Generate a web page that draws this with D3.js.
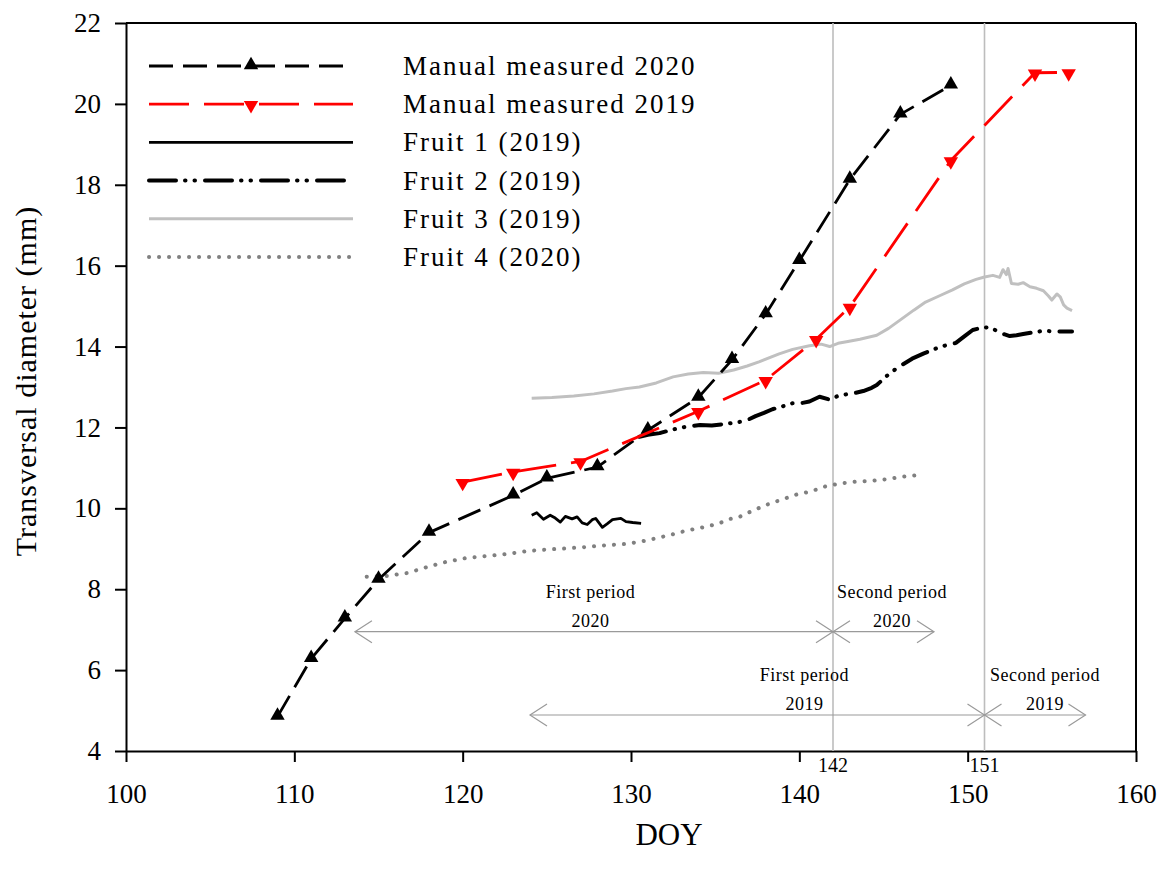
<!DOCTYPE html>
<html>
<head>
<meta charset="utf-8">
<script src="https://cdn.jsdelivr.net/npm/d3@7"></script>
<style>
body { margin: 0; background: #fff; }
text { font-family: "Liberation Serif", "Times New Roman", serif; fill: #000; }
</style>
</head>
<body>
<div id="chart"></div>
<script>
// chart size
let svgWidth = 1162;
let svgHeight = 878;
let margin = { top: 23, right: 26, bottom: 127, left: 126 };
let chartWidth = svgWidth - margin.left - margin.right;
let chartHeight = svgHeight - margin.top - margin.bottom;

// ---- data ----
let xTicks = [100, 110, 120, 130, 140, 150, 160];
let yTicks = [4, 6, 8, 10, 12, 14, 16, 18, 20, 22];

let manualDoy2020 = [109, 111, 113, 115, 118, 123, 125, 128, 131, 134, 136, 138, 140, 143, 146, 149];
let manual2020 = [4.85, 6.28, 7.28, 8.24, 9.4, 10.32, 10.74, 11.02, 11.93, 12.74, 13.67, 14.8, 16.12, 18.13, 19.74, 20.46];

let manualDoy2019 = [120, 123, 127, 134, 138, 141, 143, 149, 154, 156];
let manual2019 = [10.65, 10.9, 11.16, 12.4, 13.17, 14.18, 14.98, 18.6, 20.77, 20.78];

let fruit1Doy = [124.1, 124.4, 124.8, 125.2, 125.5, 125.8, 126.1, 126.5, 126.8, 127.1, 127.4, 127.7, 127.9, 128.3, 128.6, 128.9, 129.4, 129.7, 130.1, 130.6];
let fruit1 = [9.83, 9.89, 9.73, 9.83, 9.76, 9.66, 9.8, 9.74, 9.79, 9.64, 9.6, 9.72, 9.75, 9.53, 9.62, 9.72, 9.75, 9.67, 9.65, 9.63];

let fruit2Doy = [130.5, 131.0, 131.7, 132.5, 133.3, 134.1, 134.8, 135.5, 136.5, 137.0, 137.4, 137.9, 138.4, 139.0, 139.6, 140.1, 140.6, 141.2, 141.8, 142.3,
  142.8, 143.3, 143.8, 144.3, 144.6, 145.0, 145.4, 146.0, 146.7, 147.4, 148.1, 148.7, 149.3, 149.8, 150.3, 150.8, 151.3, 151.6, 151.9, 152.2,
  152.5, 152.9, 153.3, 153.9, 154.5, 155.3, 156.2];
let fruit2 = [11.77, 11.82, 11.86, 11.95, 12.02, 12.06, 12.05, 12.08, 12.14, 12.2, 12.28, 12.36, 12.45, 12.52, 12.6, 12.6, 12.64, 12.76, 12.69, 12.78,
  12.82, 12.85, 12.9, 12.98, 13.05, 13.2, 13.35, 13.52, 13.7, 13.83, 13.95, 14.03, 14.09, 14.25, 14.41, 14.46, 14.48, 14.42, 14.33, 14.3,
  14.26, 14.28, 14.31, 14.35, 14.39, 14.37, 14.37];

let fruit3Doy = [124.1, 125.3, 126.6, 127.8, 128.9, 129.7, 130.5, 131.5, 132.5, 133.4, 134.3, 135.2, 136.1, 136.9, 137.6, 138.8, 139.6, 140.6, 141.3, 141.8,
  142.3, 142.8, 143.6, 144.6, 145.3, 146.0, 146.8, 147.5, 148.3, 149.1, 149.8, 150.5, 151.0, 151.5, 151.9, 152.1, 152.3, 152.4, 152.6, 153.0,
  153.3, 153.7, 154.1, 154.5, 154.8, 155.0, 155.3, 155.5, 155.7, 155.9, 156.2];
let fruit3 = [12.72, 12.74, 12.78, 12.83, 12.9, 12.96, 13.0, 13.1, 13.25, 13.32, 13.36, 13.34, 13.42, 13.52, 13.62, 13.82, 13.93, 14.02, 14.06, 14.0,
  14.08, 14.12, 14.18, 14.28, 14.45, 14.66, 14.9, 15.1, 15.25, 15.4, 15.55, 15.66, 15.72, 15.76, 15.71, 15.9, 15.78, 15.93, 15.56, 15.54,
  15.58, 15.48, 15.44, 15.38, 15.25, 15.15, 15.3, 15.23, 15.03, 14.95, 14.89];

let fruit4Doy = [114.3, 115.5, 116.7, 117.9, 119.05, 120.2, 121.4, 122.6, 124.0, 125.3, 126.2, 127.2, 128.0, 129.0, 129.7, 130.6, 131.5, 132.4, 133.3, 134.5,
  135.2, 135.8, 136.4, 136.9, 138.0, 139.2, 139.9, 140.7, 141.6, 142.5, 143.4, 144.3, 145.2, 146.1, 147.1];
let fruit4 = [8.31, 8.33, 8.4, 8.55, 8.68, 8.77, 8.82, 8.87, 8.95, 8.99, 9.01, 9.04, 9.07, 9.1, 9.12, 9.18, 9.26, 9.35, 9.45, 9.55,
  9.62, 9.73, 9.78, 9.88, 10.08, 10.25, 10.35, 10.42, 10.55, 10.62, 10.66, 10.68, 10.72, 10.78, 10.82];

// period boundaries and arrow annotations
let boundaryDoy = [142, 151];
let periodNames = ["First period", "Second period", "First period", "Second period"];
let periodYears = ["2020", "2020", "2019", "2019"];
let periodStart = [113.6, 142, 124, 151];
let periodEnd = [142, 148, 151, 157];
let periodLevel = [6.95, 6.95, 4.89, 4.89];
let periodLabelDoy = [127.6, 145.5, 140.3, 154.6];

let legendNames = ["Manual measured 2020", "Manual measured 2019", "Fruit 1 (2019)", "Fruit 2 (2019)", "Fruit 3 (2019)", "Fruit 4 (2020)"];

// series styles
let styles = [
  { color: "#000", width: 2.8, dash: "24 10", cap: "butt", marker: "up" },
  { color: "#ff0000", width: 2.8, dash: "40 15", cap: "butt", marker: "down" },
  { color: "#000", width: 2.8, dash: null, cap: "butt" },
  { color: "#000", width: 4, dash: "27 9 0.5 9 0.5 10", cap: "round" },
  { color: "#c0c0c0", width: 3, dash: null, cap: "butt" },
  { color: "#808080", width: 4, dash: "0.1 9.9", cap: "round" }
];

function zipSeries(xs, ys) {
  return xs.map((d, i) => ({ x: d, y: ys[i] }));
}

let series = [
  zipSeries(manualDoy2020, manual2020),
  zipSeries(manualDoy2019, manual2019),
  zipSeries(fruit1Doy, fruit1),
  zipSeries(fruit2Doy, fruit2),
  zipSeries(fruit3Doy, fruit3),
  zipSeries(fruit4Doy, fruit4)
];

/********************************************/

let svg = d3.select("#chart")
  .append("svg")
  .attr("width", svgWidth)
  .attr("height", svgHeight);

let chartGroup = svg.append("g")
  .attr("transform", `translate(${margin.left}, ${margin.top})`);

let xScale = d3.scaleLinear().domain([100, 160]).range([0, chartWidth]);
let yScale = d3.scaleLinear().domain([4, 22]).range([chartHeight, 0]);

// axes
let xAxis = d3.axisBottom(xScale).tickValues(xTicks).tickSize(11).tickSizeOuter(0).tickPadding(22);
let yAxis = d3.axisLeft(yScale).tickValues(yTicks).tickSize(11).tickSizeOuter(0).tickPadding(14);

let gx = chartGroup.append("g")
  .attr("class", "x-axis")
  .attr("transform", `translate(0, ${chartHeight})`)
  .call(xAxis);
let gy = chartGroup.append("g")
  .attr("class", "y-axis")
  .call(yAxis);

[gx, gy].forEach(g => {
  g.selectAll("path, line").attr("stroke", "#000").attr("stroke-width", 2);
  g.selectAll("text")
    .style("font-family", "'Liberation Serif', serif")
    .style("font-size", "27px")
    .attr("fill", "#000");
});

// top and right frame
chartGroup.append("line")
  .attr("x1", 0).attr("x2", chartWidth).attr("y1", 0).attr("y2", 0)
  .attr("stroke", "#000").attr("stroke-width", 2);
chartGroup.append("line")
  .attr("x1", chartWidth).attr("x2", chartWidth).attr("y1", 0).attr("y2", chartHeight)
  .attr("stroke", "#000").attr("stroke-width", 2);

// axis titles
svg.append("text")
  .attr("transform", `translate(36, 381) rotate(-90)`)
  .attr("text-anchor", "middle")
  .style("font-size", "30px")
  .style("letter-spacing", "1px")
  .text("Transversal diameter (mm)");

svg.append("text")
  .attr("x", 669)
  .attr("y", 845)
  .attr("text-anchor", "middle")
  .style("font-size", "31px")
  .text("DOY");

// vertical boundary lines
chartGroup.selectAll(".boundary")
  .data(boundaryDoy)
  .enter()
  .append("line")
  .attr("class", "boundary")
  .attr("x1", d => xScale(d)).attr("x2", d => xScale(d))
  .attr("y1", 0).attr("y2", chartHeight)
  .attr("stroke", "#bdbdbd").attr("stroke-width", 1.6);

chartGroup.selectAll(".boundaryLabel")
  .data(boundaryDoy)
  .enter()
  .append("text")
  .attr("class", "boundaryLabel")
  .attr("x", d => xScale(d))
  .attr("y", chartHeight + 21)
  .attr("text-anchor", "middle")
  .style("font-size", "20px")
  .text(d => d);

/********************************************/
// period arrows
let arrowColor = "#9a9a9a";
function chevron(g, tipX, tipY, dir) {
  let len = 17, half = 11;
  g.append("path")
    .attr("d", `M${tipX - dir * len},${tipY - half} L${tipX},${tipY} L${tipX - dir * len},${tipY + half}`)
    .attr("fill", "none")
    .attr("stroke", arrowColor)
    .attr("stroke-width", 1.2);
}

let periodGroup = chartGroup.append("g");
periodStart.forEach((s, i) => {
  let x0 = xScale(s), x1 = xScale(periodEnd[i]), y = yScale(periodLevel[i]);
  periodGroup.append("line")
    .attr("x1", x0).attr("x2", x1).attr("y1", y).attr("y2", y)
    .attr("stroke", arrowColor).attr("stroke-width", 1.2);
  chevron(periodGroup, x0, y, -1);
  chevron(periodGroup, x1, y, 1);
  let lx = xScale(periodLabelDoy[i]);
  periodGroup.append("text")
    .attr("x", lx).attr("y", y - 34)
    .attr("text-anchor", "middle")
    .style("font-size", "18px")
    .style("letter-spacing", "0.5px")
    .text(periodNames[i]);
  periodGroup.append("text")
    .attr("x", lx).attr("y", y - 5)
    .attr("text-anchor", "middle")
    .style("font-size", "18px")
    .style("letter-spacing", "0.5px")
    .text(periodYears[i]);
});

/********************************************/
// series lines (draw fruit lines first, manual on top)
let line = d3.line().x(d => xScale(d.x)).y(d => yScale(d.y));
let drawOrder = [4, 5, 2, 3, 0, 1];

drawOrder.forEach(i => {
  let st = styles[i];
  chartGroup.append("path")
    .datum(series[i])
    .attr("d", line)
    .attr("fill", "none")
    .attr("stroke", st.color)
    .attr("stroke-width", st.width)
    .attr("stroke-linecap", st.cap)
    .attr("stroke-linejoin", "round")
    .attr("stroke-dasharray", st.dash);

  if (st.marker) {
    chartGroup.selectAll(".marker" + i)
      .data(series[i])
      .enter()
      .append("path")
      .attr("class", "marker" + i)
      .attr("d", d3.symbol().type(d3.symbolTriangle).size(90))
      .attr("transform", d => `translate(${xScale(d.x)}, ${yScale(d.y) + (st.marker === "up" ? -1 : 1)}) rotate(${st.marker === "up" ? 0 : 180})`)
      .attr("fill", st.color);
  }
});

/********************************************/
// legend
let legend = svg.append("g").attr("class", "legend");
legendNames.forEach((name, i) => {
  let st = styles[i];
  let y = 66 + i * 38.2;
  legend.append("line")
    .attr("x1", 149).attr("x2", 353).attr("y1", y).attr("y2", y)
    .attr("stroke", st.color)
    .attr("stroke-width", st.width)
    .attr("stroke-linecap", st.cap)
    .attr("stroke-dasharray", st.dash);
  if (st.marker) {
    legend.append("path")
      .attr("d", d3.symbol().type(d3.symbolTriangle).size(90))
      .attr("transform", `translate(251, ${y + (st.marker === "up" ? -1 : 1)}) rotate(${st.marker === "up" ? 0 : 180})`)
      .attr("fill", st.color);
  }
  legend.append("text")
    .attr("x", 403)
    .attr("y", y + 9)
    .style("font-size", "27px")
    .style("letter-spacing", "2px")
    .text(name);
});
</script>
</body>
</html>
